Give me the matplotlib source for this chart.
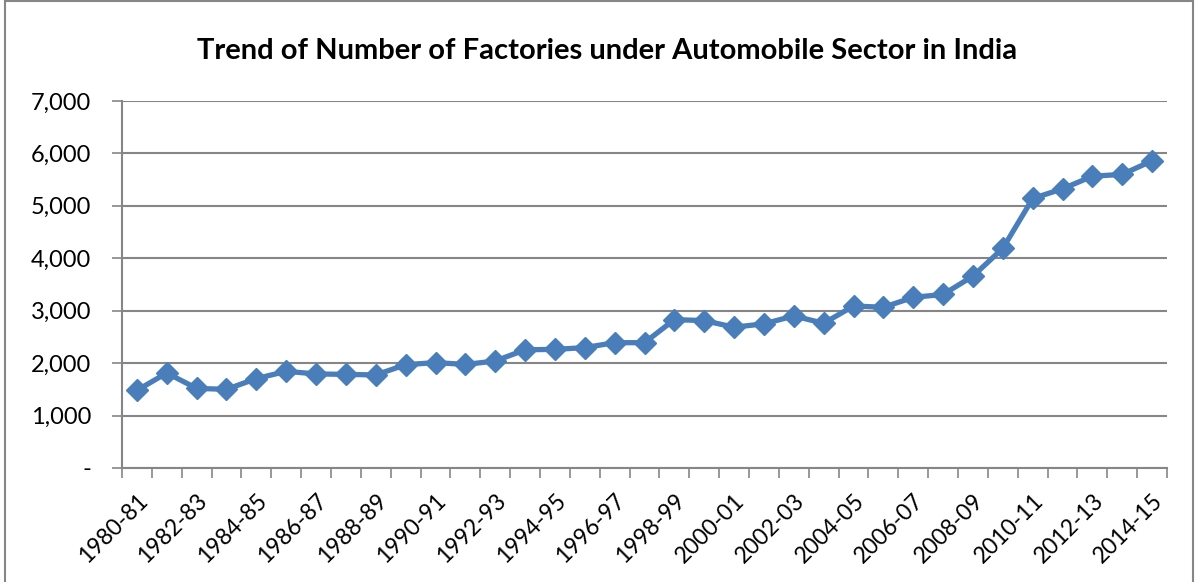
import numpy as np
import matplotlib.pyplot as plt
from matplotlib.ticker import FuncFormatter
from matplotlib.lines import Line2D

plt.rcParams['font.family'] = ['Lato', 'DejaVu Sans']

years = ["1980-81", "1981-82", "1982-83", "1983-84", "1984-85", "1985-86", "1986-87",
         "1987-88", "1988-89", "1989-90", "1990-91", "1991-92", "1992-93", "1993-94",
         "1994-95", "1995-96", "1996-97", "1997-98", "1998-99", "1999-00", "2000-01",
         "2001-02", "2002-03", "2003-04", "2004-05", "2005-06", "2006-07", "2007-08",
         "2008-09", "2009-10", "2010-11", "2011-12", "2012-13", "2013-14", "2014-15"]
factories = [1480, 1812, 1518, 1500, 1705, 1843, 1794, 1785, 1775, 1970,
             2010, 1975, 2040, 2255, 2262, 2296, 2390, 2390, 2830, 2811,
             2685, 2750, 2900, 2760, 3090, 3065, 3255, 3310, 3660, 4190,
             5140, 5325, 5565, 5600, 5860]
yticks = [0, 1000, 2000, 3000, 4000, 5000, 6000, 7000]

grey = "#868686"
blue = "#4A7EBB"

fig = plt.figure(figsize=(11.97, 5.82), dpi=100)
ax = fig.add_axes([0.1019, 0.1959, 0.8731, 0.6306])

x = np.arange(len(years))
ax.plot(x, factories, color=blue, linewidth=3.8, marker="D", markersize=11,
        markeredgecolor=blue, zorder=3)

ax.set_xlim(-0.5, len(years) - 0.5)
ax.set_ylim(0, 7000)
ax.set_yticks(yticks)
ax.yaxis.set_major_formatter(FuncFormatter(lambda v, p: "-" if v == 0 else f"{int(v):,}"))
ax.grid(axis="y", color=grey, linewidth=1.5, zorder=0)

# category boundaries as tick marks, labels on every other category
ax.set_xticks(np.arange(-0.5, len(years), 1))
ax.set_xticklabels([])
ax.set_xticks(x[::2], minor=True)
ax.set_xticklabels(years[::2], minor=True, rotation=45, ha="right",
                   rotation_mode="anchor", fontsize=16.5)
ax.tick_params(axis="x", which="minor", length=0, pad=16)
ax.tick_params(axis="x", which="major", length=7, color=grey, width=1.2)
ax.tick_params(axis="y", length=7, color=grey, width=1.2, labelsize=17, pad=15)

for s in ["top", "right"]:
    ax.spines[s].set_visible(False)
for s in ["left", "bottom"]:
    ax.spines[s].set_color(grey)
    ax.spines[s].set_linewidth(1.5)

fig.text(0.507, 0.913, "Trend of Number of Factories under Automobile Sector in India",
         ha="center", va="center", fontsize=21, fontweight="bold")

# chart border
fig.add_artist(Line2D([0.004, 0.004], [0, 1], color=grey, linewidth=1.5))
fig.add_artist(Line2D([0.997, 0.997], [0, 1], color=grey, linewidth=1.5))
fig.add_artist(Line2D([0.004, 0.997], [0.998, 0.998], color=grey, linewidth=1.5))

fig.savefig("out.png", dpi=100)
